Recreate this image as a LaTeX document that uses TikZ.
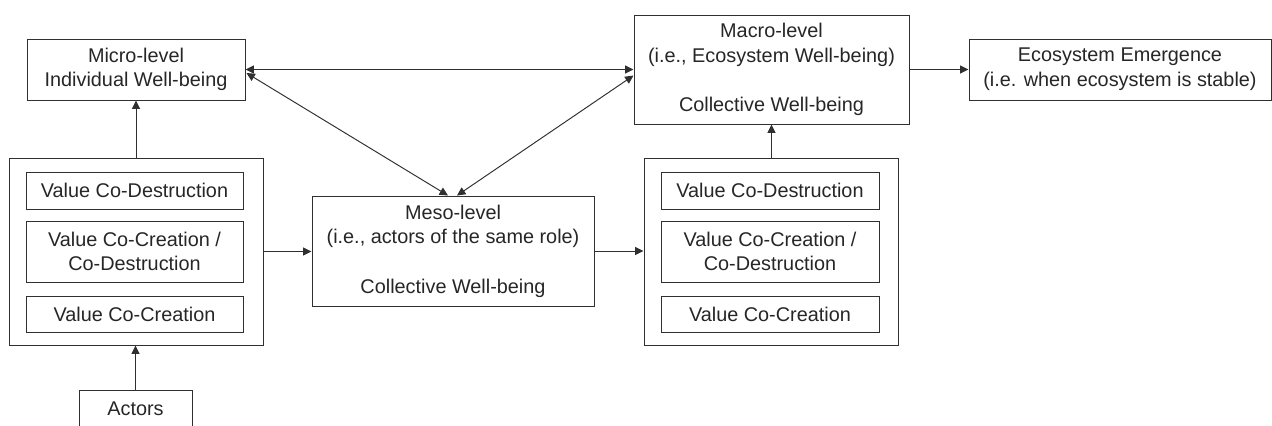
\documentclass[tikz,border=0pt]{standalone}
\usepackage{fontspec}
\setmainfont{Liberation Sans}
\usetikzlibrary{arrows.meta,calc}
\definecolor{ink}{HTML}{262626}
\definecolor{rule}{HTML}{303030}
\begin{document}
\begin{tikzpicture}[x=0.02cm,y=-0.02cm,
  box/.style 2 args={draw=rule, line width=0.55pt, rectangle, inner sep=0pt,
    minimum width=#1*0.02cm, minimum height=#2*0.02cm,
    align=center, text=ink, font=\fontsize{11.3}{14}\selectfont},
  arr/.style={draw=rule, line width=0.55pt, -{Triangle[length=4.8pt,width=4.6pt]}},
  biarr/.style={draw=rule, line width=0.55pt, {Triangle[length=4.8pt,width=4.6pt]}-{Triangle[length=4.8pt,width=4.6pt]}}]
\useasboundingbox (0,0) rectangle (1272,426);

% micro level
\node[box={218}{61}] (micro) at (136,69.5) {Micro-level\\Individual Well-being};

% left value cluster
\node[box={254}{187}] (outerL) at (136,251.5) {};
\node[box={217}{37}] (inL1) at (134.5,190.5) {Value Co-Destruction};
\node[box={217}{61}] (inL2) at (134.5,251.5) {Value Co-Creation /\\Co-Destruction};
\node[box={217}{36}] (inL3) at (134.5,314) {Value Co-Creation};

% actors
\node[box={113}{38}] (actors) at (135.5,409) {Actors};

% meso level
\node[box={282}{110}] (meso) at (453,251) {Meso-level\\(i.e., actors of the same role)\\[14pt]Collective Well-being};

% right value cluster
\node[box={254}{187}] (outerR) at (771,251.5) {};
\node[box={218}{37}] (inR1) at (770,190.5) {Value Co-Destruction};
\node[box={218}{61}] (inR2) at (770,251.5) {Value Co-Creation /\\Co-Destruction};
\node[box={218}{36}] (inR3) at (770,314) {Value Co-Creation};

% macro level and emergence
\node[box={275}{109}] (macro) at (771.5,69.5) {Macro-level\\(i.e., Ecosystem Well-being)\\[14pt]Collective Well-being};
\node[box={302}{61}] (eco) at (1120,69.5) {Ecosystem Emergence\\(i.e. when ecosystem is stable)};

% connectors
\draw[arr] (actors.north) -- (actors.north |- outerL.south);
\draw[arr] (outerL.north) -- (micro.south);
\draw[arr] (outerL.east) -- (outerL.east -| meso.west);
\draw[arr] (meso.east) -- (meso.east -| outerR.west);
\draw[arr] (macro.south |- outerR.north) -- (macro.south);
\draw[arr] (macro.east) -- (macro.east -| eco.west);
\draw[biarr] (micro.east) -- (micro.east -| macro.west);
\draw[biarr] ($(micro.east)+(1,3.5)$) -- ($(meso.north)+(-5,0)$);
\draw[biarr] ($(macro.west)+(0,6)$) -- ($(meso.north)+(4,0)$);
\end{tikzpicture}
\end{document}
